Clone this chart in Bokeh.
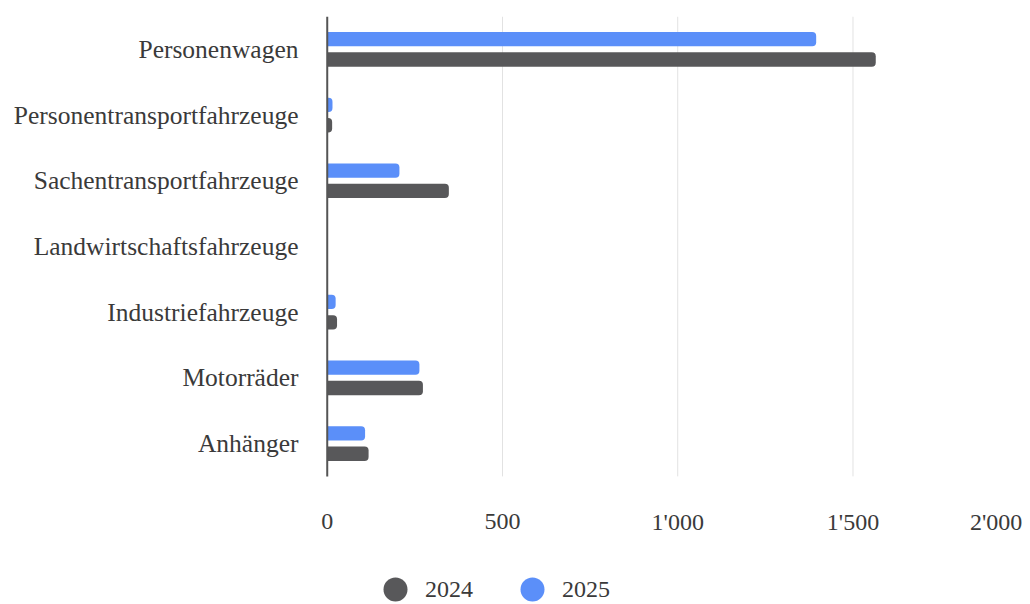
from bokeh.plotting import figure
from bokeh.models import (ColumnDataSource, Range1d, FixedTicker, Legend, LegendItem)
from bokeh.core.properties import value
from bokeh.embed import file_html
from bokeh.resources import INLINE

categories = ["Personenwagen", "Personentransportfahrzeuge", "Sachentransportfahrzeuge",
              "Landwirtschaftsfahrzeuge", "Industriefahrzeuge", "Motorräder", "Anhänger"]
values_2024 = [1565, 14, 347, 0, 28, 273, 118]
values_2025 = [1395, 15, 206, 0, 24, 263, 108]
series_names = ["2024", "2025"]
xtick_values = [0, 500, 1000, 1500, 2000]
xtick_labels = ["0", "500", "1'000", "1'500", "2'000"]

FONT = "Liberation Serif"
TXT = "#3a3a3a"
C24 = "#58585a"
C25 = "#5b8ff9"
GRID = "#e2e2e2"

n = len(categories)
idx = list(range(n))
OFF = 0.155
BAR_H = 0.218

src = ColumnDataSource(dict(
    y24=[i + OFF for i in idx], y25=[i - OFF for i in idx],
    v2024=values_2024, v2025=values_2025))

p = figure(width=1030, height=604,
           x_range=Range1d(-62, 2006.5), y_range=Range1d(8.45, -0.5),
           x_axis_location=None,
           output_backend="svg", toolbar_location=None,
           min_border_left=305, min_border_right=0,
           min_border_top=16, min_border_bottom=0)
p.outline_line_color = None
p.grid.visible = False

# grid lines (only inside the category area)
gx = xtick_values[1:-1]
p.segment(x0=gx, x1=gx, y0=[-0.5] * len(gx), y1=[n - 0.5] * len(gx),
          line_color=GRID, line_width=1)

# bars
p.hbar(y="y24", left=0, right="v2024", height=BAR_H, source=src,
       fill_color=C24, line_color=None, border_radius=(0, 4, 4, 0))
p.hbar(y="y25", left=0, right="v2025", height=BAR_H, source=src,
       fill_color=C25, line_color=None, border_radius=(0, 4, 4, 0))

# zero / category axis line
p.segment(x0=[0], x1=[0], y0=[-0.5], y1=[n - 0.5], line_color="#555555", line_width=2)

# x tick labels
ylab = 7.19
p.text(x=xtick_values[:-1], y=[ylab] * (len(xtick_values) - 1), text=xtick_labels[:-1],
       text_align="center", text_baseline="middle",
       text_font=value(FONT), text_font_size="24px", text_color=TXT)
p.text(x=xtick_values[-1:], y=[ylab], text=xtick_labels[-1:],
       text_align="right", text_baseline="middle", x_offset=-6,
       text_font=value(FONT), text_font_size="24px", text_color=TXT)

# legend swatches: zero-size markers on the bar data (only shown in the legend)
c24 = p.scatter(x="v2024", y="y24", source=src, marker="circle", size=0,
                fill_color=C24, line_color=None)
c25 = p.scatter(x="v2025", y="y25", source=src, marker="circle", size=0,
                fill_color=C25, line_color=None)

legend = Legend(items=[LegendItem(label=series_names[0], renderers=[c24], index=0),
                       LegendItem(label=series_names[1], renderers=[c25], index=0)],
                orientation="horizontal", location=(60, -15),
                glyph_width=60, glyph_height=60, label_standoff=0, spacing=29,
                padding=0, margin=0, border_line_color=None,
                background_fill_alpha=0,
                label_text_font=FONT, label_text_font_size="24px",
                label_text_color=TXT)
p.add_layout(legend, "center")

# category axis
p.yaxis.ticker = FixedTicker(ticks=idx)
p.yaxis.major_label_overrides = {i: c for i, c in zip(idx, categories)}
p.yaxis.axis_line_color = None
p.yaxis.major_tick_line_color = None
p.yaxis.minor_tick_line_color = None
p.yaxis.major_tick_out = 0
p.yaxis.major_label_standoff = 7
p.yaxis.major_label_text_font = FONT
p.yaxis.major_label_text_font_size = "25.5px"
p.yaxis.major_label_text_color = TXT

open("out.html", "w").write(file_html(p, INLINE))
